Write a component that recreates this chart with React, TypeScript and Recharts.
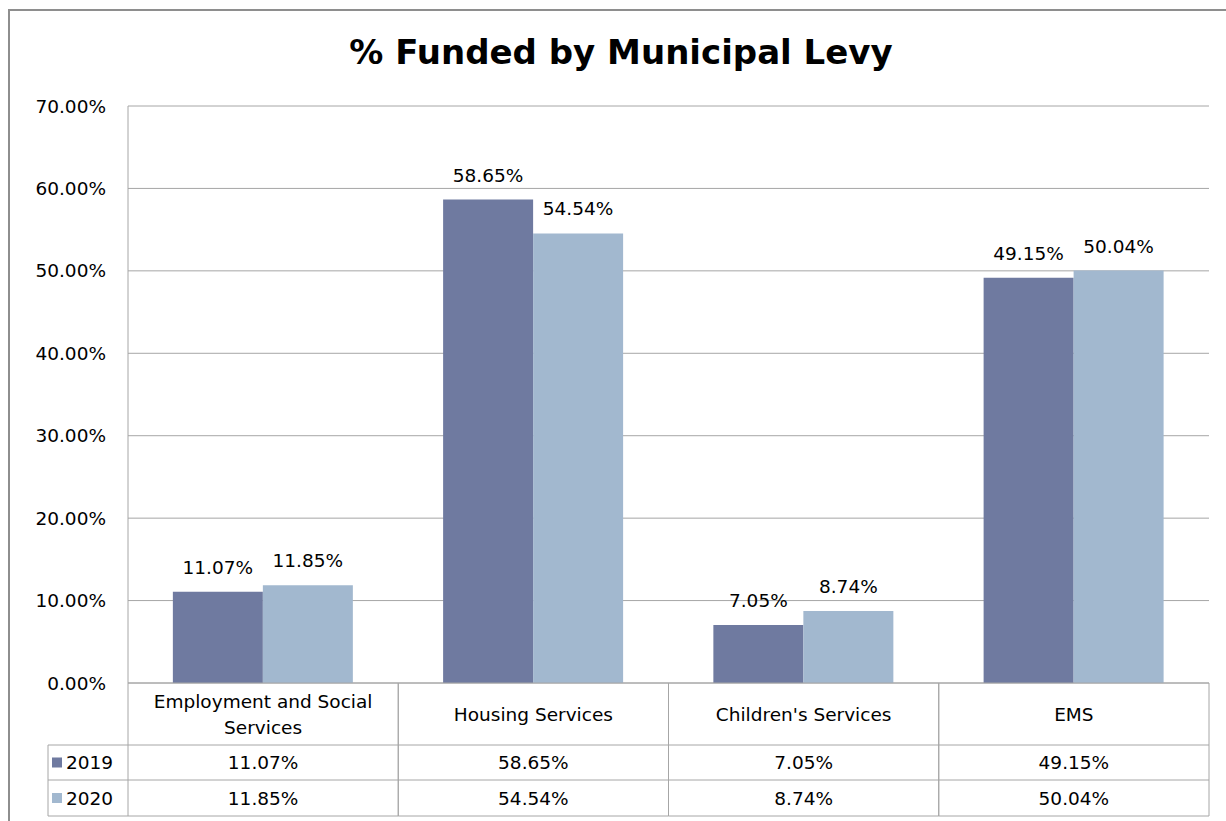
import React from "react";
import { BarChart, Bar, XAxis, YAxis, CartesianGrid, LabelList } from "recharts";

const categories = ["Employment and Social Services", "Housing Services", "Children's Services", "EMS"];
const levy2019 = [11.07, 58.65, 7.05, 49.15];
const levy2020 = [11.85, 54.54, 8.74, 50.04];
const yTicks = [0, 10, 20, 30, 40, 50, 60, 70];
const seriesNames = ["2019", "2020"];

const colors = ["#6F7AA0", "#A2B8CF"];
const lineColor = "#A6A6A6";
const font = "'DejaVu Sans', sans-serif";
const fs = 18.5;

const pct = (v: any) => Number(v).toFixed(2) + "%";

const data = categories.map((name, i) => ({
  name,
  y2019: levy2019[i],
  y2020: levy2020[i],
}));

// rough word wrap so long category names break like the original
const wrap = (s: string, max = 22) => {
  const out: string[] = [];
  let cur = "";
  s.split(" ").forEach((w) => {
    if (cur && (cur + " " + w).length > max) {
      out.push(cur);
      cur = w;
    } else {
      cur = cur ? cur + " " + w : w;
    }
  });
  if (cur) out.push(cur);
  return out;
};

// x axis tick draws one column of the data table under the category
const TableTick = (props: any) => {
  const { x, y, payload, index } = props;
  const half = payload.offset || 135;
  const left = x - half;
  const right = x + half;
  const r1 = y + 62;
  const r2 = y + 97;
  const r3 = y + 133;
  const rows = [levy2019, levy2020];
  const lines = wrap(String(payload.value));
  const mid = (y + r1) / 2;
  const ci = categories.indexOf(payload.value);
  return (
    <g>
      <line x1={left} y1={y} x2={left} y2={r3} stroke={lineColor} />
      <line x1={right} y1={y} x2={right} y2={r3} stroke={lineColor} />
      <line x1={left} y1={r1} x2={right} y2={r1} stroke={lineColor} />
      <line x1={left} y1={r2} x2={right} y2={r2} stroke={lineColor} />
      <line x1={left} y1={r3} x2={right} y2={r3} stroke={lineColor} />
      {lines.map((ln, li) => (
        <text
          key={li}
          x={x}
          y={mid + (li - (lines.length - 1) / 2) * 26}
          textAnchor="middle"
          dominantBaseline="central"
          fontSize={fs}
          fontFamily={font}
          fill="#000"
        >
          {ln}
        </text>
      ))}
      {rows.map((vals, ri) => (
        <text
          key={ri}
          x={x}
          y={ri === 0 ? (r1 + r2) / 2 : (r2 + r3) / 2}
          textAnchor="middle"
          dominantBaseline="central"
          fontSize={fs}
          fontFamily={font}
          fill="#000"
        >
          {pct(vals[ci])}
        </text>
      ))}
      {index === 0 && (
        <g>
          <line x1={left - 80} y1={r1} x2={left} y2={r1} stroke={lineColor} />
          <line x1={left - 80} y1={r2} x2={left} y2={r2} stroke={lineColor} />
          <line x1={left - 80} y1={r3} x2={left} y2={r3} stroke={lineColor} />
          <line x1={left - 80} y1={r1} x2={left - 80} y2={r3} stroke={lineColor} />
          {seriesNames.map((s, si) => {
            const cy = si === 0 ? (r1 + r2) / 2 : (r2 + r3) / 2;
            return (
              <g key={s}>
                <rect x={left - 76} y={cy - 5} width={10} height={10} fill={colors[si]} />
                <text x={left - 62} y={cy} dominantBaseline="central" fontSize={fs} fontFamily={font} fill="#000">
                  {s}
                </text>
              </g>
            );
          })}
        </g>
      )}
    </g>
  );
};

export default function App() {
  return (
    <div style={{ position: "fixed", left: 0, top: 0, width: 1226, height: 821, overflow: "hidden", background: "#fff" }}>
      <div
        style={{
          position: "absolute",
          left: 8,
          top: 9,
          width: 1240,
          height: 830,
          borderLeft: "2px solid #8E8E8E",
          borderTop: "2px solid #8E8E8E",
        }}
      />
      <div
        style={{
          position: "absolute",
          left: 0,
          top: 32,
          width: 1242,
          textAlign: "center",
          fontFamily: font,
          fontWeight: 700,
          fontSize: 34,
          lineHeight: "40px",
          color: "#000",
        }}
      >
        % Funded by Municipal Levy
      </div>
      <div style={{ position: "absolute", left: 0, top: 0 }}>
        <BarChart
          width={1226}
          height={821}
          data={data}
          margin={{ top: 106, right: 17, left: 0, bottom: 0 }}
          barCategoryGap="16.6%"
          barGap={0}
        >
          <CartesianGrid vertical={false} stroke={lineColor} />
          <XAxis
            dataKey="name"
            height={138}
            interval={0}
            tickLine={false}
            tickSize={0}
            tickMargin={0}
            axisLine={{ stroke: lineColor }}
            tick={<TableTick />}
          />
          <YAxis
            width={128}
            domain={[0, 70]}
            ticks={yTicks}
            tickFormatter={pct}
            tickLine={false}
            tickMargin={16}
            axisLine={{ stroke: lineColor }}
            tick={{ fontSize: fs, fontFamily: font, fill: "#000" }}
          />
          <Bar dataKey="y2019" name={seriesNames[0]} fill={colors[0]} isAnimationActive={false}>
            <LabelList dataKey="y2019" position="top" offset={18} formatter={pct} style={{ fontSize: fs, fontFamily: font, fill: "#000" }} />
          </Bar>
          <Bar dataKey="y2020" name={seriesNames[1]} fill={colors[1]} isAnimationActive={false}>
            <LabelList dataKey="y2020" position="top" offset={18} formatter={pct} style={{ fontSize: fs, fontFamily: font, fill: "#000" }} />
          </Bar>
        </BarChart>
      </div>
    </div>
  );
}
